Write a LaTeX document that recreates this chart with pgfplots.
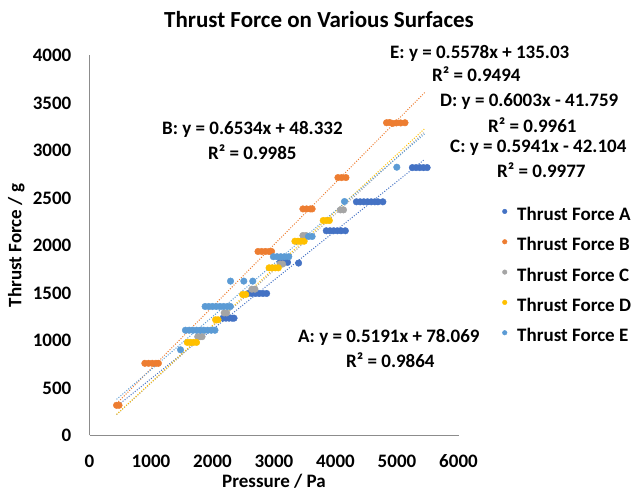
\documentclass[border=0pt]{standalone}
\usepackage{fontspec}
\setmainfont{Carlito}
\usepackage{pgfplots}
\pgfplotsset{compat=1.18}

\definecolor{serA}{HTML}{4472C4}
\definecolor{serB}{HTML}{ED7D31}
\definecolor{serC}{HTML}{A5A5A5}
\definecolor{serD}{HTML}{FFC000}
\definecolor{serE}{HTML}{5B9BD5}
\definecolor{axisgray}{HTML}{8C8C8C}

\newcommand\lbl{\bfseries\fontsize{19bp}{22bp}\selectfont}

\begin{document}
\begin{tikzpicture}[x=1bp,y=1bp]
\useasboundingbox (0,0) rectangle (633,496);
\begin{axis}[
  at={(89.5bp,60.5bp)}, anchor=south west,
  scale only axis, width=369bp, height=380bp,
  xmin=0, xmax=6000, ymin=0, ymax=4000,
  xtick distance=1000, ytick distance=500,
  axis x line=bottom, axis y line=left,
  axis line style={-, draw=axisgray, line width=1bp},
  major tick length=0pt,
  /pgf/number format/assume math mode=true,
  /pgf/number format/1000 sep={},
  ticklabel style={font=\lbl, inner sep=0pt},
  yticklabel style={anchor=east, xshift=-18bp},
  xticklabel style={anchor=north, yshift=-19bp},
  xlabel={Pressure / Pa}, ylabel={Thrust Force / g},
  label style={font=\lbl},
  xlabel style={at={(axis description cs:0.5,0)}, anchor=center, yshift=-46bp},
  ylabel style={at={(axis description cs:-0.198,0.5)}, anchor=center},
  legend style={at={(axis description cs:1.118,0.601)}, anchor=north west,
    draw=none, fill=none, inner sep=0pt, row sep=15.5bp, font=\lbl,
    nodes={inner sep=0pt},
    /tikz/every odd column/.append style={column sep=10bp}},
  legend cell align=left,
  legend image code/.code={\fill[#1] (2.3bp,0.33em) circle (2.3bp);},
  mymark/.style={only marks, mark=*, mark size=3.3bp, forget plot},
  trend/.style={line width=1bp, dash pattern=on 1bp off 1.6bp, forget plot},
]

% Thrust Force A
\addplot[mymark, serA] coordinates {
  (2170,1235) (2220,1235) (2270,1235) (2320,1235) (2350,1235)
  (2580,1495) (2640,1495) (2700,1495) (2760,1495) (2820,1495) (2880,1495)
  (3100,1822) (3160,1822) (3220,1822) (3400,1815)
  (3850,2155) (3910,2155) (3970,2155) (4030,2155) (4090,2155) (4160,2155)
  (4340,2460) (4400,2460) (4460,2460) (4520,2460) (4580,2460) (4640,2460) (4690,2460) (4770,2460)
  (5250,2820) (5310,2820) (5370,2820) (5430,2820) (5490,2820)
};
% Thrust Force B
\addplot[mymark, serB] coordinates {
  (440,318) (480,318)
  (900,760) (960,760) (1020,760) (1080,760) (1120,760)
  (2740,1937) (2800,1937) (2860,1937) (2920,1937) (2960,1937)
  (3470,2385) (3530,2385) (3590,2385) (3620,2385)
  (4040,2715) (4100,2715) (4170,2715)
  (4830,3292) (4880,3295) (4930,3285) (4990,3290) (5060,3290) (5130,3292)
};
% Thrust Force C
\addplot[mymark, serC] coordinates {
  (1760,1040) (1800,1040) (1830,1040)
  (2190,1290) (2230,1290)
  (2640,1540) (2690,1540)
  (3100,1805) (3140,1805)
  (3470,2105) (3520,2105)
  (4080,2375) (4130,2375)
};
% Thrust Force D
\addplot[mymark, serD] coordinates {
  (1590,980) (1640,980) (1690,980) (1740,980)
  (2050,1218) (2090,1218)
  (2490,1484) (2540,1484)
  (2920,1765) (2970,1765) (3020,1765) (3070,1765)
  (3340,2045) (3390,2045) (3440,2045) (3490,2045)
  (3800,2263) (3850,2263) (3900,2263)
};
% Thrust Force E
\addplot[mymark, serE] coordinates {
  (1480,902)
  (1560,1108) (1620,1108) (1680,1108) (1740,1108) (1800,1108) (1860,1108) (1920,1108) (1980,1108) (2040,1108)
  (1880,1358) (1940,1358) (2000,1358) (2060,1358) (2120,1358) (2180,1358) (2240,1358) (2290,1358)
  (2293,1625) (2509,1625) (2655,1625)
  (2990,1882) (3050,1882) (3110,1882) (3170,1882) (3240,1882)
  (3560,2095) (3620,2095)
  (4146,2463) (4997,2824)
};

% linear trendlines (y = m x + c) over 440 ... 5450 Pa
\addplot[trend, serA] coordinates {(440,306.5) (5450,2907.2)};
\addplot[trend, serB] coordinates {(440,335.8) (5450,3609.4)};
\addplot[trend, serC] coordinates {(440,219.3) (5450,3195.7)};
\addplot[trend, serD] coordinates {(440,222.4) (5450,3229.9)};
\addplot[trend, serE] coordinates {(440,380.5) (5450,3175.0)};

\addlegendimage{serA}\addlegendentry{Thrust Force A}
\addlegendimage{serB}\addlegendentry{Thrust Force B}
\addlegendimage{serC}\addlegendentry{Thrust Force C}
\addlegendimage{serD}\addlegendentry{Thrust Force D}
\addlegendimage{serE}\addlegendentry{Thrust Force E}
\end{axis}

% chart title
\node[font=\bfseries\fontsize{23bp}{27bp}\selectfont] at (319,476) {Thrust Force on Various Surfaces};

% trendline equations
\begin{scope}[every node/.style={anchor=west, font=\lbl, inner sep=0pt}]
\node at (390,443) {E: y = 0.5578x + 135.03};
\node at (432,422) {R² = 0.9494};
\node at (440,394) {D: y = 0.6003x - 41.759};
\node at (488,371) {R² = 0.9961};
\node at (450,348) {C: y = 0.5941x - 42.104};
\node at (497,326) {R² = 0.9977};
\node at (162,367) {B: y = 0.6534x + 48.332};
\node at (208,344) {R² = 0.9985};
\node at (298,159) {A: y = 0.5191x + 78.069};
\node at (346,136) {R² = 0.9864};
\end{scope}
\end{tikzpicture}
\end{document}
